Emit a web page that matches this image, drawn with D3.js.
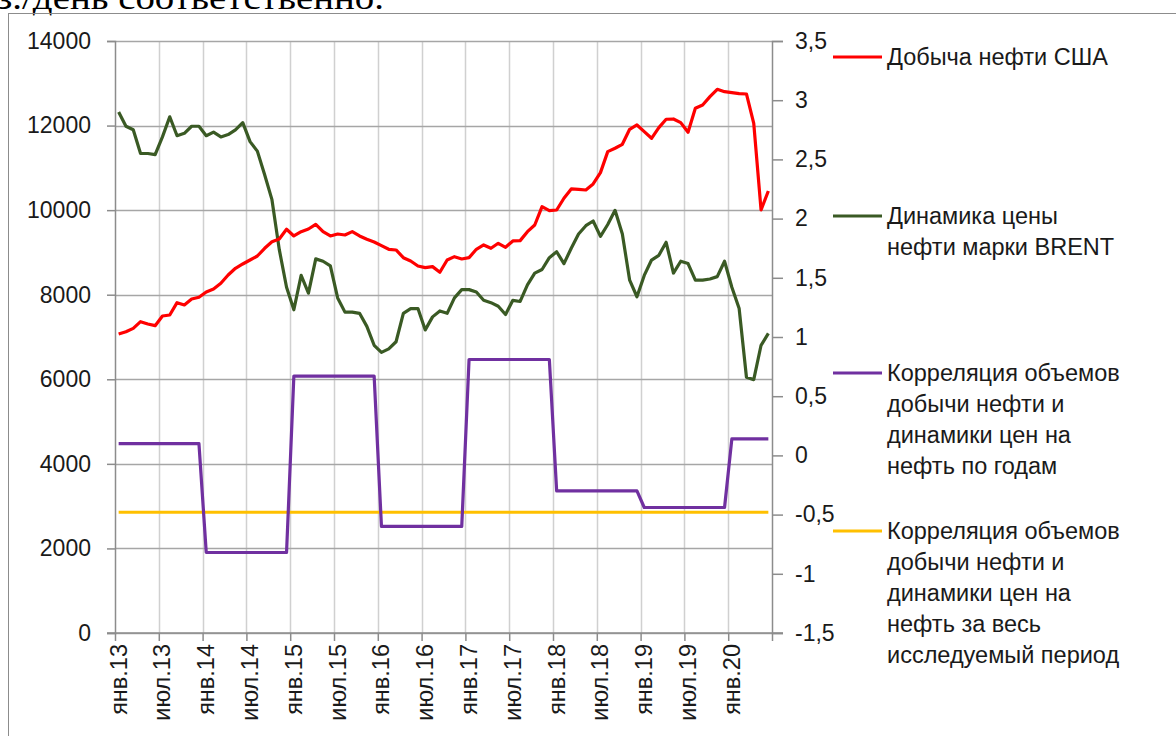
<!DOCTYPE html>
<html>
<head>
<meta charset="utf-8">
<script src="https://cdn.jsdelivr.net/npm/d3@7"></script>
<style>
  html, body { margin: 0; padding: 0; background: #fff; }
  svg { display: block; }
</style>
</head>
<body>
<svg id="chart" width="1176" height="736"></svg>
<script>
// ---------------- DATA ----------------
// Monthly categories: Jan 2013 .. Jun 2020 (90 months)
const years = [2013, 2014, 2015, 2016, 2017, 2018, 2019, 2020];
const tickLabels = ["янв.13","июл.13","янв.14","июл.14","янв.15","июл.15","янв.16","июл.16","янв.17","июл.17","янв.18","июл.18","янв.19","июл.19","янв.20"];

// US oil production (left axis)
const usProduction = [
  7071,7126,7205,7363,7308,7268,7497,7521,7812,7757,7899,7939,
  8065,8136,8270,8467,8625,8727,8821,8916,9098,9254,9318,9547,
  9389,9491,9554,9665,9491,9389,9436,9413,9491,9389,9311,9247,
  9160,9074,9058,8876,8798,8680,8640,8664,8530,8821,8900,8845,
  8876,9074,9176,9098,9216,9121,9271,9279,9491,9649,10083,9988,
  10004,10281,10501,10493,10477,10619,10887,11384,11463,11557,11912,12014,
  11856,11699,11951,12149,12156,12069,11841,12409,12487,12684,12858,12802,
  12779,12755,12747,12054,10004,10453
];

// Brent price dynamics (right axis)
const brentDynamics = [
  2.90,2.78,2.75,2.55,2.55,2.54,2.69,2.86,2.70,2.72,2.78,2.78,
  2.70,2.73,2.69,2.71,2.75,2.81,2.65,2.57,2.37,2.16,1.74,1.42,
  1.23,1.52,1.37,1.66,1.64,1.60,1.33,1.21,1.21,1.20,1.09,0.93,
  0.87,0.90,0.96,1.20,1.24,1.24,1.06,1.17,1.22,1.20,1.33,1.40,
  1.40,1.38,1.31,1.29,1.26,1.19,1.31,1.30,1.44,1.54,1.57,1.67,
  1.72,1.62,1.75,1.87,1.94,1.98,1.85,1.95,2.07,1.87,1.48,1.34,
  1.52,1.65,1.69,1.80,1.54,1.64,1.62,1.48,1.48,1.49,1.51,1.64,
  1.42,1.24,0.66,0.64,0.93,1.03
];

// Correlation by year (right axis), one value per calendar year
const corrByYear = [0.10, -0.82, 0.67, -0.60, 0.81, -0.30, -0.44, 0.14];
// Correlation over the whole period (right axis)
const corrTotal = -0.48;

const leftTicks = [0, 2000, 4000, 6000, 8000, 10000, 12000, 14000];
const rightTicks = [-1.5, -1, -0.5, 0, 0.5, 1, 1.5, 2, 2.5, 3, 3.5];

const seriesNames = [
  ["Добыча нефти США"],
  ["Динамика цены", "нефти марки BRENT"],
  ["Корреляция объемов", "добычи нефти и", "динамики цен на", "нефть по годам"],
  ["Корреляция объемов", "добычи нефти и", "динамики цен на", "нефть за весь", "исследуемый период"]
];
const seriesColors = ["#ff0000", "#3a5a24", "#7030a0", "#ffc000"];

// ---------------- LAYOUT ----------------
const L = 115, R = 772, T = 41, B = 633;
const nMonths = usProduction.length;
const svg = d3.select("#chart");
const FONT = "'Liberation Sans', Arial, sans-serif";

const x = d3.scaleLinear().domain([0, nMonths]).range([L, R]);
const yL = d3.scaleLinear().domain([0, 14000]).range([B, T]);
const yR = d3.scaleLinear().domain([-1.5, 3.5]).range([B, T]);

// cut-off document text above the chart
svg.append("text")
  .attr("x", -3).attr("y", 9)
  .attr("font-family", "'Liberation Serif', 'Times New Roman', serif")
  .attr("font-size", 34)
  .attr("textLength", 387).attr("lengthAdjust", "spacingAndGlyphs")
  .attr("fill", "#000")
  .text("з./день соответственно.");

// chart border
svg.append("rect")
  .attr("x", 8.5).attr("y", 13.5).attr("width", 1200).attr("height", 800)
  .attr("fill", "none").attr("stroke", "#8c8c8c").attr("stroke-width", 1);

// vertical gridlines (every 6 months)
const vTicks = d3.range(0, nMonths + 1, 6);
svg.append("g").selectAll("line").data(vTicks.filter(d => d > 0 && d < nMonths)).join("line")
  .attr("x1", d => Math.round(x(d)) + 0.5).attr("x2", d => Math.round(x(d)) + 0.5)
  .attr("y1", T).attr("y2", B)
  .attr("stroke", "#d0d0d0").attr("stroke-width", 1.5);

// horizontal gridlines (left axis)
svg.append("g").selectAll("line").data(leftTicks).join("line")
  .attr("x1", L).attr("x2", R)
  .attr("y1", d => Math.round(yL(d)) + 0.5).attr("y2", d => Math.round(yL(d)) + 0.5)
  .attr("stroke", "#a6a6a6").attr("stroke-width", 1.5);

// left axis
const leftAxis = d3.axisLeft(yL).tickValues(leftTicks).tickSize(8).tickPadding(16).tickFormat(d3.format("d"));
const gL = svg.append("g").attr("transform", `translate(${L},0)`).call(leftAxis);
gL.select(".domain").attr("stroke", "#8c8c8c").attr("stroke-width", 1.5);
gL.selectAll(".tick line").attr("stroke", "#8c8c8c").attr("stroke-width", 1.5);
gL.selectAll("text").attr("font-family", FONT).attr("font-size", 23).attr("fill", "#1a1a1a");

// right axis
const fmtR = d => d3.format("")(d).replace(".", ",").replace("−", "-");
const rightAxis = d3.axisRight(yR).tickValues(rightTicks).tickSize(11).tickPadding(12).tickFormat(fmtR);
const gR = svg.append("g").attr("transform", `translate(${R},0)`).call(rightAxis);
gR.select(".domain").attr("stroke", "#8c8c8c").attr("stroke-width", 1.5);
gR.selectAll(".tick line").attr("stroke", "#8c8c8c").attr("stroke-width", 1.5);
gR.selectAll("text").attr("font-family", FONT).attr("font-size", 23).attr("fill", "#1a1a1a");

// bottom axis
const xAxis = d3.axisBottom(x).tickValues(vTicks).tickSize(8).tickFormat("");
const gX = svg.append("g").attr("transform", `translate(0,${B})`).call(xAxis);
gX.select(".domain").attr("stroke", "#8c8c8c").attr("stroke-width", 1.5)
  .attr("d", `M${L - 8},0H${R + 11}`);
gX.selectAll(".tick line").attr("stroke", "#8c8c8c").attr("stroke-width", 1.5);

// x labels (rotated)
svg.append("g").selectAll("text").data(tickLabels).join("text")
  .attr("transform", (d, i) => `translate(${x(i * 6 + 0.5)},${B + 11}) rotate(-90)`)
  .attr("text-anchor", "end")
  .attr("dominant-baseline", "central")
  .attr("font-family", FONT).attr("font-size", 23.5).attr("fill", "#1a1a1a")
  .text(d => d);

// ---------------- SERIES ----------------
const idx = d3.range(nMonths);
const lineL = d3.line().x(d => x(d.i + 0.5)).y(d => yL(d.v));
const lineR = d3.line().x(d => x(d.i + 0.5)).y(d => yR(d.v));

const corrMonthly = idx.map(i => ({ i, v: corrByYear[Math.floor(i / 12)] }));
const corrTotalMonthly = idx.map(i => ({ i, v: corrTotal }));

svg.append("path").datum(corrTotalMonthly).attr("d", lineR)
  .attr("fill", "none").attr("stroke", seriesColors[3]).attr("stroke-width", 3.2);
svg.append("path").datum(corrMonthly).attr("d", lineR)
  .attr("fill", "none").attr("stroke", seriesColors[2]).attr("stroke-width", 3.2).attr("stroke-linejoin", "round");
svg.append("path").datum(brentDynamics.map((v, i) => ({ i, v }))).attr("d", lineR)
  .attr("fill", "none").attr("stroke", seriesColors[1]).attr("stroke-width", 3.2).attr("stroke-linejoin", "round");
svg.append("path").datum(usProduction.map((v, i) => ({ i, v }))).attr("d", lineL)
  .attr("fill", "none").attr("stroke", seriesColors[0]).attr("stroke-width", 3.2).attr("stroke-linejoin", "round");

// ---------------- LEGEND ----------------
const legendY = [57, 216, 373, 531];
const lineH = 31;
const lg = svg.append("g");
seriesNames.forEach((lines, k) => {
  lg.append("line")
    .attr("x1", 833).attr("x2", 882)
    .attr("y1", legendY[k]).attr("y2", legendY[k])
    .attr("stroke", seriesColors[k]).attr("stroke-width", 3.2);
  lines.forEach((t, j) => {
    lg.append("text")
      .attr("x", 887).attr("y", legendY[k] + j * lineH)
      .attr("dominant-baseline", "central")
      .attr("font-family", FONT).attr("font-size", 23.5).attr("fill", "#1a1a1a")
      .text(t);
  });
});
</script>
</body>
</html>
